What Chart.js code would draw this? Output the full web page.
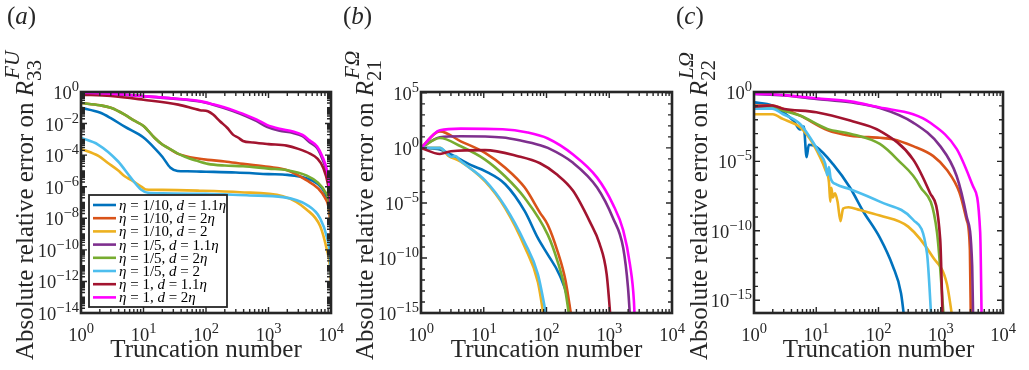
<!DOCTYPE html>
<html>
<head>
<meta charset="utf-8">
<script src="https://cdn.jsdelivr.net/npm/chart.js@4.4.1/dist/chart.umd.min.js"></script>
<style>
  html, body { margin: 0; padding: 0; background: #fff; }
  #wrap { position: relative; width: 1029px; height: 370px; overflow: hidden; background: #fff; }
  #wrap canvas { position: absolute; top: 0; }
</style>
</head>
<body>
<div id="wrap">
  <canvas id="chartA" width="345" height="370" style="left:0px"></canvas>
  <canvas id="chartB" width="360" height="370" style="left:335px"></canvas>
  <canvas id="chartC" width="369" height="370" style="left:660px"></canvas>
</div>
<script>
const SERIF = "'Liberation Serif', 'Times New Roman', Times, serif";
const INK = '#262626';
const COLORS = ['#0072BD', '#D95319', '#EDB120', '#7E2F8E', '#77AC30', '#4DBEEE', '#A2142F', '#FF00FF'];

// ---------- data ----------
const seriesLabels = [
  'η = 1/10, d = 1.1η', 'η = 1/10, d = 2η', 'η = 1/10, d = 2',
  'η = 1/5, d = 1.1η', 'η = 1/5, d = 2η', 'η = 1/5, d = 2',
  'η = 1, d = 1.1η', 'η = 1, d = 2η',
];
const xTicks = [1, 10, 100, 1000, 10000];
const yTicksA = [1, 1e-2, 1e-4, 1e-6, 1e-8, 1e-10, 1e-12, 1e-14];
const yTicksB = [1e5, 1, 1e-5, 1e-10, 1e-15];
const yTicksC = [1, 1e-5, 1e-10, 1e-15];

// (a) R33 FU
const nA1 = [1, 2, 3, 5, 10, 15, 20, 27, 35, 50, 100, 300, 1000, 2000, 4000, 6000, 8000, 9000, 9700, 10000];
const errA1 = [1e-1, 5.0e-2, 2.2e-2, 6.3e-3, 1.3e-3, 2.8e-4, 7.9e-5, 1.6e-5, 1.0e-5, 9.5e-6, 8.9e-6, 7.9e-6, 6.3e-6, 5.6e-6, 3.5e-6, 1.6e-6, 4.0e-7, 1.0e-7, 1.6e-8, 3.0e-9];
const nA2 = [1, 2, 3, 5, 7, 10, 15, 20, 25, 35, 46, 70, 107, 200, 390, 1000, 2000, 4100, 6200, 8000, 9300, 10000];
const errA2 = [2.0e-1, 1.45e-1, 1.0e-1, 3.7e-2, 1.58e-2, 7.1e-3, 1.26e-3, 4.7e-4, 2.8e-4, 1.26e-4, 8.9e-5, 6.3e-5, 5.0e-5, 4.0e-5, 2.8e-5, 1.8e-5, 1.1e-5, 2.5e-6, 7.9e-7, 2.0e-7, 3.2e-8, 1.0e-9];
const nA3 = [1, 1.9, 2.7, 3.9, 5, 6.3, 8, 9.5, 11, 20, 80, 350, 1700, 4100, 6700, 8600, 9600, 10000];
const errA3 = [2.5e-4, 8.9e-5, 3.2e-5, 1.1e-5, 4.6e-6, 2.7e-6, 1.45e-6, 9.3e-7, 6.6e-7, 6.3e-7, 5.6e-7, 4.5e-7, 2.5e-7, 3.5e-8, 3.2e-9, 1.0e-10, 1.0e-11, 8.0e-13];
const nA4 = [1, 3, 10, 30, 80, 130, 270, 450, 650, 940, 1500, 2470, 3500, 4600, 6000, 7200, 8700, 9500, 10000];
const errA4 = [0.87, 0.76, 0.54, 0.38, 0.25, 0.158, 0.063, 0.028, 0.0141, 0.0063, 0.00355, 0.00251, 0.00158, 6.3e-4, 2.8e-4, 6.3e-5, 6.3e-6, 6.3e-7, 3.2e-8];
const nA5 = [1, 2, 3, 5, 7, 10, 15, 20, 25, 35, 46, 70, 107, 200, 390, 1000, 2000, 4100, 6200, 8000, 9300, 10000];
const errA5 = [2.0e-1, 1.45e-1, 1.0e-1, 3.7e-2, 1.58e-2, 7.1e-3, 1.26e-3, 4.7e-4, 2.8e-4, 1.3e-4, 7.9e-5, 4.5e-5, 2.8e-5, 2.2e-5, 2.0e-5, 1.4e-5, 1.1e-5, 5.0e-6, 1.8e-6, 5.0e-7, 1.0e-7, 3.2e-9];
const nA6 = [1, 1.87, 3.9, 6.3, 9.1, 11.8, 20, 100, 500, 1700, 4100, 6700, 8600, 9600, 10000];
const errA6 = [1.23e-3, 4.7e-4, 4.1e-5, 3.6e-6, 6.6e-7, 4.1e-7, 3.8e-7, 3.5e-7, 2.8e-7, 2.2e-7, 7.1e-8, 1.0e-8, 6.3e-10, 5.0e-11, 2.0e-12];
const nA7 = [1, 3, 10, 36, 80, 107, 130, 167, 220, 270, 330, 390, 570, 1000, 1950, 3000, 4600, 6000, 7500, 9000, 9700, 10000];
const errA7 = [0.676, 0.562, 0.324, 0.158, 0.0708, 0.0603, 0.0372, 0.0141, 0.00525, 0.002, 0.00126, 7.9e-4, 6.3e-4, 5.0e-4, 4.0e-4, 2.5e-4, 1.26e-4, 6.3e-5, 1.6e-5, 1.26e-6, 1.0e-7, 1.0e-8];
const nA8 = [1, 3, 10, 30, 80, 130, 270, 450, 650, 940, 1500, 2470, 3500, 4600, 6000, 7200, 8700, 9500, 10000];
const errA8 = [0.89, 0.78, 0.55, 0.39, 0.263, 0.166, 0.071, 0.033, 0.0178, 0.0083, 0.0047, 0.00316, 0.0019, 8.3e-4, 3.5e-4, 8.9e-5, 1.0e-5, 1.0e-6, 6.3e-8];

// (b) R21 FΩ
const nB1 = [1, 2, 3, 4.3, 6.3, 10.5, 22, 45, 73, 105, 160, 220, 265];
const errB1 = [1, 0.71, 0.25, 0.087, 0.027, 7.9e-3, 5.0e-4, 1.8e-6, 6.3e-9, 2.0e-10, 3.2e-12, 1.6e-14, 1e-17];
const nB2 = [1, 2, 4.3, 10.5, 22, 45, 79, 105, 150, 200, 275];
const errB2 = [1, 31.6, 3.98, 0.355, 0.0158, 2.5e-4, 1.26e-6, 1.0e-7, 4.0e-10, 1.0e-12, 1e-17];
const nB3 = [1, 2, 2.7, 4.3, 10.5, 22, 45, 73, 100];
const errB3 = [1, 1, 0.2, 0.056, 8.9e-4, 3.2e-6, 1.0e-9, 6.3e-13, 1e-17];
const nB4 = [1, 2, 4.3, 20, 40, 79, 105, 265, 640, 1150, 1670, 1990, 2230];
const errB4 = [1, 9.3, 11.5, 8.9, 4.5, 1.78, 1, 0.044, 2.5e-4, 4.0e-7, 7.9e-10, 2.0e-13, 1e-17];
const nB5 = [1, 2, 4.3, 10.5, 22, 45, 105, 150, 200, 252];
const errB5 = [1, 7.9, 1.41, 0.087, 2.5e-3, 2.8e-5, 1.26e-8, 5.0e-11, 1.0e-13, 1e-17];
const nB6 = [1, 2, 2.5, 3, 3.5, 4.3, 10.5, 22, 45, 73, 113];
const errB6 = [1, 1, 0.4, 0.158, 0.178, 0.063, 1.1e-3, 4.5e-6, 2.5e-9, 3.2e-12, 1e-17];
const nB7 = [1, 2, 3, 10.5, 35, 79, 145, 265, 490, 700, 910, 1100];
const errB7 = [1, 0.28, 0.5, 0.63, 0.178, 0.04, 4.0e-3, 1.26e-4, 2.0e-7, 2.0e-9, 3.2e-12, 1e-17];
const nB8 = [1, 2, 4.3, 20, 50, 105, 265, 640, 1150, 1670, 2140, 2470, 2600];
const errB8 = [1, 39.8, 56, 50, 25, 7.1, 0.25, 2.0e-3, 7.1e-6, 3.2e-8, 2.5e-11, 1.26e-14, 1e-17];

// (c) R22 LΩ
const nC1 = [1, 1.95, 2.9, 4.3, 5.5, 6.3, 7.0, 7.6, 10, 18.6, 35, 56, 105, 170, 230, 270];
const errC1 = [0.18, 0.107, 0.035, 8.7e-3, 2.0e-3, 3.2e-3, 2.0e-5, 1.6e-4, 1.1e-4, 6.3e-6, 1.26e-7, 2.8e-9, 3.2e-11, 2.8e-13, 3.2e-15, 1e-17];
const nC2 = [1, 1.95, 2.9, 5.5, 15, 35, 105, 170, 360, 750, 1250, 2000, 2600, 2940, 3050];
const errC2 = [0.107, 0.107, 0.063, 0.02, 1.8e-3, 7.1e-4, 5.0e-4, 4.0e-4, 1.26e-4, 2.5e-5, 2.5e-6, 5.6e-8, 6.3e-10, 4.0e-12, 1e-17];
const nC3 = [1, 2, 2.9, 5.5, 7.9, 11.5, 14, 16, 16.8, 17.5, 18.5, 20, 22, 24.5, 27, 33, 50, 105, 300, 750, 1250, 1620];
const errC3 = [0.025, 0.025, 0.0115, 2.9e-3, 4.2e-4, 2.0e-5, 2.5e-6, 3.2e-7, 1.26e-8, 1.26e-7, 2.5e-8, 5.0e-8, 1.26e-8, 5.0e-10, 4.0e-9, 5.0e-9, 3.2e-9, 1.26e-9, 2.0e-10, 1.26e-12, 1.6e-14, 1e-17];
const nC4 = [1, 3, 10, 35, 105, 360, 980, 1800, 2600, 3200, 3330];
const errC4 = [0.72, 0.56, 0.32, 0.18, 0.071, 6.3e-3, 1.26e-4, 8.9e-7, 1.1e-9, 2.8e-13, 1e-17];
const nC5 = [1, 1.95, 2.9, 5.5, 15, 35, 105, 200, 465, 870, 1150];
const errC5 = [0.079, 0.089, 0.047, 0.02, 2.2e-3, 1.0e-3, 1.8e-4, 1.4e-5, 1.6e-7, 7.9e-11, 1e-17];
const nC6 = [1, 1.95, 2.9, 5.5, 7.9, 11.5, 14, 15, 16, 17, 21, 35, 105, 360, 600, 720];
const errC6 = [0.063, 0.063, 0.026, 5.0e-3, 5.5e-4, 3.4e-5, 6.3e-6, 1.0e-6, 4.0e-6, 6.3e-7, 2.2e-7, 1.0e-7, 1.26e-8, 6.3e-10, 2.5e-12, 1e-17];
const nC7 = [1, 1.95, 2.9, 10, 35, 105, 360, 670, 980, 1080];
const errC7 = [0.089, 0.107, 0.063, 0.035, 8.7e-3, 1.6e-3, 1.4e-5, 5.6e-8, 2.5e-11, 1e-17];
const nC8 = [1, 3, 10, 35, 105, 360, 670, 1800, 3300, 4300, 4560];
const errC8 = [0.76, 0.6, 0.35, 0.21, 0.076, 0.025, 6.3e-3, 7.9e-5, 1.6e-7, 7.9e-11, 1e-17];

// ---------- text helpers ----------
function fontStr(size, italic) {
  return (italic ? 'italic ' : '') + size + 'px ' + SERIF;
}

// parts: { t, s, i, dy, dx, stay } ; stay = next part starts at same x (stacked sup/sub)
function partsWidth(ctx, parts) {
  let w = 0, held = 0;
  parts.forEach(p => {
    ctx.font = fontStr(p.s, p.i);
    const pw = ctx.measureText(p.t).width;
    if (p.stay) held = pw;
    else { w += Math.max(pw, held); held = 0; }
  });
  return w;
}

function drawParts(ctx, parts, x, y) {
  let cx = x, held = 0;
  parts.forEach(p => {
    ctx.font = fontStr(p.s, p.i);
    ctx.fillText(p.t, cx + (p.dx || 0), y + (p.dy || 0));
    const pw = ctx.measureText(p.t).width;
    if (p.stay) held = pw;
    else { cx += Math.max(pw, held); held = 0; }
  });
}

function powerParts(v) {
  const e = Math.round(Math.log10(v));
  return [
    { t: '10', s: 18.5 },
    { t: String(e).replace('-', '\u2212'), s: 14.5, dy: -8 },
  ];
}

function legendParts(label) {
  const parts = [];
  for (const ch of label) {
    const it = ch === 'η' || ch === 'd';
    const last = parts[parts.length - 1];
    if (last && last.i === it) last.t += ch;
    else parts.push({ t: ch, s: 15, i: it });
  }
  return parts;
}

function logTickValues(min, max, minor) {
  const out = [];
  for (let e = Math.floor(Math.log10(min)); e <= Math.ceil(Math.log10(max)); e++) {
    (minor ? [1, 2, 3, 4, 5, 6, 7, 8, 9] : [1]).forEach(k => {
      const v = k * Math.pow(10, e);
      if (v >= min * 0.999 && v <= max * 1.001) out.push(v);
    });
  }
  return out;
}

// ---------- axes box, ticks, labels ----------
const framePlugin = {
  id: 'frame',
  afterDraw(chart, args, o) {
    const { ctx, chartArea: a } = chart;
    const sx = chart.scales.x, sy = chart.scales.y;
    ctx.save();
    ctx.strokeStyle = INK;
    ctx.fillStyle = INK;
    ctx.lineWidth = 1.4;

    const isMajor = (list, v) => list.some(t => Math.abs(Math.log10(t) - Math.log10(v)) < 1e-6);
    ctx.beginPath();
    logTickValues(1, 1e4, true).forEach(v => {
      const px = sx.getPixelForValue(v);
      const len = isMajor(xTicks, v) ? 6 : 4;
      ctx.moveTo(px, a.bottom); ctx.lineTo(px, a.bottom - len);
      ctx.moveTo(px, a.top); ctx.lineTo(px, a.top + len);
    });
    logTickValues(sy.min, sy.max, o.yMinor).forEach(v => {
      const py = sy.getPixelForValue(v);
      const len = isMajor(o.yTicks, v) ? 6 : 4;
      ctx.moveTo(a.left, py); ctx.lineTo(a.left + len, py);
      ctx.moveTo(a.right, py); ctx.lineTo(a.right - len, py);
    });
    ctx.stroke();

    ctx.lineWidth = 2.6;
    ctx.strokeRect(a.left, a.top, a.right - a.left, a.bottom - a.top);

    ctx.textAlign = 'left';
    ctx.textBaseline = 'alphabetic';
    xTicks.forEach(v => {
      const parts = powerParts(v);
      const w = partsWidth(ctx, parts);
      drawParts(ctx, parts, sx.getPixelForValue(v) - w / 2, a.bottom + 28);
    });
    o.yTicks.forEach(v => {
      const parts = powerParts(v);
      const w = partsWidth(ctx, parts);
      drawParts(ctx, parts, a.left - 2 - w, sy.getPixelForValue(v) + 7);
    });

    // x title
    ctx.font = fontStr(25, false);
    ctx.textAlign = 'center';
    ctx.fillText('Truncation number', (a.left + a.right) / 2, 357);

    // y title (rotated)
    ctx.textAlign = 'left';
    ctx.save();
    ctx.translate(o.titleX, 360);
    ctx.rotate(-Math.PI / 2);
    drawParts(ctx, [
      { t: 'Absolute relative error on ', s: 25 },
      { t: 'R', s: 25, i: true },
      { t: o.sup, s: 21, i: true, dy: -14, dx: 2, stay: true },
      { t: o.sub, s: 21, dy: 8 },
    ], 0, 0);
    ctx.restore();

    // panel letter
    drawParts(ctx, [
      { t: '(', s: 25 }, { t: o.letter, s: 25, i: true }, { t: ')', s: 25 },
    ], o.letterX, 24);

    // legend
    if (o.legend) {
      const lx = a.left + 8, ly = a.top + 103, lw = 138, lh = 112;
      ctx.fillStyle = '#fff';
      ctx.fillRect(lx, ly, lw, lh);
      ctx.lineWidth = 1.8;
      ctx.strokeRect(lx, ly, lw, lh);
      chart.data.datasets.forEach((ds, i) => {
        const ry = ly + 10 + i * 13.2;
        ctx.strokeStyle = ds.borderColor;
        ctx.lineWidth = 2.6;
        ctx.beginPath();
        ctx.moveTo(lx + 4, ry); ctx.lineTo(lx + 27, ry);
        ctx.stroke();
        ctx.fillStyle = '#000';
        drawParts(ctx, legendParts(ds.label), lx + 30, ry + 5);
      });
    }
    ctx.restore();
  },
};

function makeSets(ns, errs) {
  return ns.map((n, i) => ({
    label: seriesLabels[i],
    data: n.map((v, k) => ({ x: v, y: errs[i][k] })),
    borderColor: COLORS[i],
    backgroundColor: COLORS[i],
    borderWidth: 2.6,
    pointRadius: 0,
    cubicInterpolationMode: 'monotone',
    order: 8 - i,
  }));
}

function makeChart(id, cfg) {
  return new Chart(document.getElementById(id), {
    type: 'line',
    data: { datasets: cfg.datasets },
    options: {
      responsive: false,
      animation: false,
      devicePixelRatio: 1,
      events: [],
      layout: { padding: { top: 92, right: cfg.right, left: 0, bottom: 0 } },
      plugins: { legend: { display: false }, tooltip: { enabled: false }, frame: cfg.frame },
      scales: {
        x: {
          type: 'logarithmic', min: 1, max: 1e4,
          ticks: { display: false }, grid: { display: false }, border: { display: false },
          afterFit: s => { s.height = 57; },
        },
        y: {
          type: 'logarithmic', min: cfg.ymin, max: cfg.ymax,
          ticks: { display: false }, grid: { display: false }, border: { display: false },
          afterFit: s => { s.width = cfg.leftW; },
        },
      },
    },
    plugins: [framePlugin],
  });
}

makeChart('chartA', {
  datasets: makeSets([nA1, nA2, nA3, nA4, nA5, nA6, nA7, nA8], [errA1, errA2, errA3, errA4, errA5, errA6, errA7, errA8]),
  ymin: 1e-14, ymax: 1, leftW: 81, right: 14,
  frame: { yTicks: yTicksA, yMinor: true, titleX: 33, sup: 'FU', sub: '33', letter: 'a', letterX: 7, legend: true },
});
makeChart('chartB', {
  datasets: makeSets([nB1, nB2, nB3, nB4, nB5, nB6, nB7, nB8], [errB1, errB2, errB3, errB4, errB5, errB6, errB7, errB8]),
  ymin: 1e-15, ymax: 1.2e5, leftW: 86, right: 23,
  frame: { yTicks: yTicksB, yMinor: false, titleX: 373 - 335, sup: 'FΩ', sub: '21', letter: 'b', letterX: 343 - 335, legend: false },
});
makeChart('chartC', {
  datasets: makeSets([nC1, nC2, nC3, nC4, nC5, nC6, nC7, nC8], [errC1, errC2, errC3, errC4, errC5, errC6, errC7, errC8]),
  ymin: 1.2e-16, ymax: 1, leftW: 94, right: 26,
  frame: { yTicks: yTicksC, yMinor: false, titleX: 707 - 660, sup: 'LΩ', sub: '22', letter: 'c', letterX: 676 - 660, legend: false },
});
</script>
</body>
</html>
